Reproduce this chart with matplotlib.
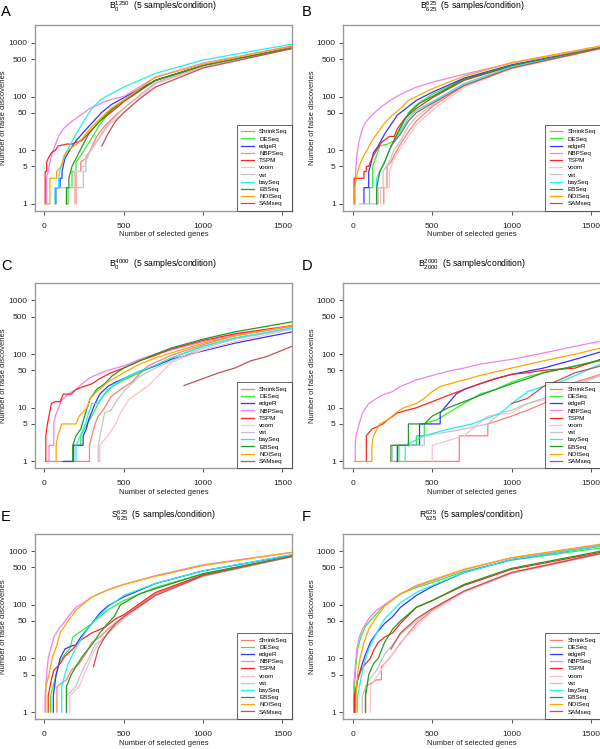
import matplotlib
matplotlib.use('Agg')
import matplotlib.pyplot as plt

plt.rcParams['font.family'] = ['Liberation Sans', 'DejaVu Sans']
plt.rcParams['mathtext.default'] = 'regular'

methods = ["ShrinkSeq", "DESeq", "edgeR", "NBPSeq", "TSPM", "voom", "vst",
           "baySeq", "EBSeq", "NOISeq", "SAMseq"]
method_colors = ["#FA8072", "#33EE33", "#3434FF", "#EE82EE", "#FF2424", "#FFBFC8",
                 "#C4C4C4", "#22F0F0", "#229B22", "#FFA500", "#C25252"]

panel_letters = ["A", "B", "C", "D", "E", "F"]
panel_titles = [r"$B_0^{1250}$", r"$B_{625}^{625}$", r"$B_0^{4000}$",
                r"$B_{2000}^{2000}$", r"$S_{625}^{625}$", r"$R_{625}^{625}$"]
subtitle = "  (5 samples/condition)"

x_ticks = [0, 500, 1000, 1500]
y_ticks = [1, 5, 10, 50, 100, 500, 1000]

# number of false discoveries vs number of selected genes
curves_a = {
    "ShrinkSeq": ([200, 200, 230, 230, 260, 290, 330, 380, 450, 500, 700, 1000, 1560],
                  [1, 4, 4, 6, 7, 10, 18, 28, 45, 60, 180, 360, 810]),
    "DESeq": ([137, 150, 150, 175, 175, 200, 200, 230, 260, 300, 350, 420, 500, 700, 1000, 1560],
              [1, 1, 2, 2, 4, 4, 6, 8, 11, 17, 30, 55, 85, 200, 380, 800]),
    "edgeR": ([73, 73, 100, 100, 112, 112, 130, 160, 200, 250, 300, 360, 420, 500, 700, 1000, 1560],
              [1, 2, 2, 3, 3, 4, 7, 10, 15, 22, 32, 50, 70, 95, 200, 380, 810]),
    "NBPSeq": ([15, 15, 25, 36, 50, 67, 90, 120, 160, 204, 250, 288, 330, 372, 420, 500, 700, 1000, 1560],
               [1, 3, 4, 6, 9, 12, 18, 25, 32, 40, 50, 60, 68, 78, 88, 100, 230, 420, 880]),
    "TSPM": ([6, 6, 15, 15, 25, 46, 70, 88, 141, 172, 200, 235, 288, 350, 435, 500, 700, 1000, 1560],
             [1, 4, 4, 6, 7, 9, 10, 12, 13, 13, 14, 15, 22, 35, 55, 80, 200, 370, 820]),
    "voom": ([190, 190, 235, 235, 260, 260, 300, 330, 400, 500, 700, 1000, 1560],
             [1, 4, 4, 5, 5, 8, 10, 14, 28, 50, 170, 350, 800]),
    "vst": ([99, 246, 246, 262, 262, 290, 330, 400, 500, 700, 1000, 1560],
            [2, 2, 4, 4, 6, 10, 15, 30, 60, 180, 360, 800]),
    "baySeq": ([67, 67, 90, 90, 105, 130, 160, 200, 250, 300, 360, 500, 700, 1000, 1560],
               [1, 2, 2, 3, 5, 8, 12, 20, 35, 60, 90, 150, 270, 480, 950]),
    "EBSeq": ([140, 140, 155, 155, 175, 210, 240, 280, 330, 400, 500, 700, 1000, 1560],
              [1, 2, 2, 3, 5, 8, 12, 20, 30, 50, 85, 200, 380, 800]),
    "NOISeq": ([10, 36, 36, 78, 78, 109, 125, 151, 204, 250, 288, 350, 420, 500, 700, 1000, 1560],
               [1, 1, 3, 3, 4, 5, 8, 10, 13, 18, 25, 38, 60, 85, 230, 400, 870]),
    "SAMseq": ([363, 400, 450, 500, 600, 700, 1000, 1560],
               [12, 20, 35, 50, 90, 150, 340, 780]),
}

curves_b = {
    "ShrinkSeq": ([195, 195, 215, 215, 240, 260, 300, 350, 400, 500, 700, 1000, 1560],
                  [1, 2, 2, 5, 6, 8, 13, 22, 35, 65, 160, 340, 790]),
    "DESeq": ([105, 105, 125, 125, 150, 170, 220, 260, 300, 350, 400, 500, 700, 1000, 1560],
              [1, 2, 2, 5, 8, 12, 13, 15, 25, 50, 70, 110, 210, 380, 810]),
    "edgeR": ([70, 70, 100, 100, 110, 130, 160, 200, 240, 280, 350, 400, 500, 700, 1000, 1560],
              [1, 2, 2, 4, 5, 9, 12, 20, 30, 45, 65, 85, 120, 220, 390, 820]),
    "NBPSeq": ([12, 12, 20, 25, 40, 60, 80, 120, 180, 250, 300, 400, 500, 700, 1000, 1560],
               [1, 2, 5, 8, 15, 25, 33, 45, 65, 90, 110, 150, 185, 260, 420, 830]),
    "TSPM": ([8, 8, 70, 70, 85, 85, 100, 110, 130, 150, 180, 230, 260, 280, 330, 400, 500, 700, 1000, 1560],
             [1, 3, 3, 4, 4, 5, 5, 6, 8, 10, 14, 18, 18, 25, 40, 60, 95, 200, 370, 810]),
    "voom": ([175, 175, 230, 230, 260, 300, 350, 400, 500, 700, 1000, 1560],
             [1, 2, 2, 4, 7, 11, 18, 30, 55, 150, 330, 780]),
    "vst": ([40, 160, 160, 190, 190, 230, 260, 300, 350, 400, 500, 700, 1000, 1560],
            [1, 1, 2, 2, 4, 6, 10, 15, 28, 42, 70, 170, 350, 800]),
    "baySeq": ([150, 150, 170, 200, 230, 260, 300, 350, 400, 500, 700, 1000, 1560],
               [1, 3, 4, 6, 10, 15, 22, 40, 55, 80, 175, 360, 800]),
    "EBSeq": ([150, 150, 170, 200, 230, 270, 320, 370, 420, 500, 700, 1000, 1560],
              [1, 2, 4, 6, 10, 18, 35, 55, 75, 100, 210, 380, 810]),
    "NOISeq": ([12, 12, 30, 50, 70, 90, 120, 160, 200, 250, 300, 350, 400, 500, 700, 1000, 1560],
               [1, 2, 4, 6, 8, 10, 15, 22, 32, 45, 60, 85, 100, 140, 240, 430, 880]),
    "SAMseq": ([240, 300, 350, 400, 500, 700, 1000, 1560],
               [12, 20, 35, 50, 75, 160, 340, 790]),
}

curves_c = {
    "ShrinkSeq": ([10, 285, 285, 300, 320, 340, 380, 420, 480, 550, 650, 800, 1000, 1200, 1560],
                  [1, 1, 2, 3, 5, 7, 10, 16, 22, 30, 60, 95, 150, 220, 330]),
    "DESeq": ([180, 180, 230, 230, 270, 310, 340, 380, 430, 500, 600, 700, 800, 1000, 1200, 1560],
              [1, 2, 2, 3, 5, 8, 12, 18, 25, 33, 45, 62, 85, 140, 200, 300]),
    "edgeR": ([120, 185, 185, 245, 245, 265, 280, 320, 350, 400, 450, 500, 600, 700, 800, 1000, 1200, 1560],
              [1, 1, 2, 2, 3, 4, 6, 12, 18, 25, 30, 35, 48, 60, 80, 115, 160, 260]),
    "NBPSeq": ([30, 30, 60, 60, 70, 90, 110, 150, 200, 250, 300, 400, 500, 600, 700, 800, 1000, 1200, 1560],
               [1, 2, 2, 5, 7, 10, 14, 18, 22, 30, 38, 50, 60, 80, 100, 120, 170, 230, 330]),
    "TSPM": ([10, 10, 20, 30, 45, 70, 100, 120, 170, 200, 250, 300, 350, 420, 500, 600, 700, 800, 1000, 1200, 1560],
             [1, 3, 5, 7, 12, 13, 13, 18, 18, 22, 25, 28, 35, 45, 55, 75, 95, 125, 180, 240, 340]),
    "voom": ([340, 350, 350, 400, 450, 480, 530, 580, 650, 720, 800, 1000, 1200, 1560],
             [1, 1, 2, 3, 5, 8, 14, 18, 25, 40, 70, 120, 170, 290]),
    "vst": ([340, 340, 360, 380, 420, 460, 500, 550, 600, 700, 800, 1000, 1200, 1560],
            [1, 2, 4, 8, 9, 14, 20, 28, 38, 55, 75, 130, 190, 300]),
    "baySeq": ([200, 200, 260, 280, 300, 330, 350, 400, 450, 500, 600, 700, 800, 1000, 1200, 1560],
               [1, 2, 5, 8, 12, 12, 14, 22, 28, 35, 48, 62, 85, 140, 200, 310]),
    "EBSeq": ([180, 180, 200, 230, 260, 290, 330, 380, 430, 500, 600, 700, 800, 1000, 1200, 1560],
              [1, 2, 3, 4, 8, 15, 22, 28, 40, 55, 75, 100, 130, 190, 260, 400]),
    "NOISeq": ([75, 75, 85, 100, 110, 200, 220, 270, 290, 330, 400, 500, 600, 700, 1000, 1200, 1560],
               [1, 2, 3, 4, 5, 5, 7, 10, 15, 20, 30, 45, 65, 85, 160, 220, 340]),
    "SAMseq": ([880, 1000, 1100, 1200, 1300, 1400, 1560],
               [26, 35, 45, 55, 75, 90, 140]),
}

curves_d = {
    "ShrinkSeq": ([250, 670, 670, 850, 850, 1000, 1100, 1200, 1300, 1400, 1560],
                  [1, 1, 3, 3, 5, 7, 9, 12, 20, 30, 42]),
    "DESeq": ([290, 290, 400, 400, 450, 450, 530, 600, 700, 800, 900, 1000, 1100, 1200, 1400, 1560],
              [1, 2, 2, 3, 3, 5, 6, 8, 12, 18, 22, 30, 38, 45, 60, 75]),
    "edgeR": ([280, 280, 420, 420, 550, 550, 600, 650, 700, 800, 900, 1000, 1100, 1200, 1400, 1560],
              [1, 2, 2, 5, 5, 8, 12, 18, 22, 28, 35, 42, 48, 55, 80, 110]),
    "NBPSeq": ([15, 15, 20, 40, 60, 100, 150, 200, 250, 300, 400, 500, 600, 700, 800, 1000, 1200, 1400, 1560],
               [1, 2, 3, 5, 8, 12, 15, 18, 20, 25, 33, 40, 48, 55, 65, 80, 105, 140, 175]),
    "TSPM": ([85, 85, 120, 190, 220, 280, 340, 400, 500, 600, 700, 800, 900, 1000, 1100, 1200, 1400, 1560],
             [1, 3, 4, 5, 6, 8, 9, 10, 13, 17, 22, 28, 35, 42, 45, 50, 55, 80]),
    "voom": ([500, 500, 700, 850, 1000, 1100, 1200, 1400, 1560],
             [1, 2, 3, 7, 8, 12, 14, 25, 40]),
    "vst": ([250, 250, 450, 450, 700, 850, 930, 1000, 1100, 1200, 1300, 1400, 1560],
            [1, 2, 2, 3, 4, 5, 8, 9, 12, 15, 20, 28, 40]),
    "baySeq": ([330, 330, 450, 600, 750, 930, 1000, 1100, 1200, 1300, 1400, 1560],
               [1, 2, 3, 4, 5, 8, 12, 20, 25, 30, 40, 65]),
    "EBSeq": ([240, 240, 350, 350, 450, 500, 600, 700, 800, 900, 1000, 1100, 1200, 1400, 1560],
              [1, 2, 2, 5, 5, 7, 10, 13, 17, 22, 28, 35, 45, 60, 78]),
    "NOISeq": ([10, 120, 120, 130, 170, 220, 270, 320, 400, 450, 500, 550, 700, 800, 1000, 1200, 1400, 1560],
               [1, 1, 2, 3, 5, 6, 8, 10, 12, 15, 20, 25, 33, 40, 55, 75, 100, 130]),
    "SAMseq": ([1000, 1100, 1200, 1300, 1400, 1560],
               [12, 15, 25, 33, 45, 60]),
}

curves_e = {
    "ShrinkSeq": ([80, 80, 140, 170, 220, 260, 300, 350, 400, 500, 700, 1000, 1560],
                  [1, 3, 4, 6, 8, 12, 20, 25, 35, 60, 160, 360, 800]),
    "DESeq": ([40, 40, 75, 100, 130, 160, 180, 230, 300, 400, 500, 700, 1000, 1560],
              [1, 2, 5, 9, 12, 15, 25, 32, 45, 80, 120, 210, 380, 800]),
    "edgeR": ([57, 57, 75, 100, 130, 170, 200, 230, 300, 350, 400, 500, 700, 1000, 1560],
              [1, 2, 5, 10, 15, 17, 18, 25, 45, 70, 95, 140, 250, 430, 850]),
    "NBPSeq": ([5, 5, 15, 25, 40, 60, 90, 120, 160, 200, 250, 300, 400, 500, 700, 1000, 1560],
               [1, 2, 5, 10, 15, 25, 35, 45, 65, 90, 110, 140, 190, 240, 350, 560, 950]),
    "TSPM": ([25, 25, 45, 60, 100, 130, 180, 230, 300, 380, 450, 500, 700, 1000, 1560],
             [1, 2, 4, 6, 8, 11, 15, 22, 30, 38, 55, 65, 170, 360, 790]),
    "voom": ([160, 160, 220, 250, 280, 320, 360, 420, 500, 700, 1000, 1560],
             [1, 2, 3, 5, 8, 15, 22, 35, 55, 150, 340, 790]),
    "vst": ([140, 140, 200, 240, 280, 320, 380, 450, 500, 700, 1000, 1560],
            [1, 2, 3, 6, 10, 18, 25, 40, 55, 150, 340, 790]),
    "baySeq": ([110, 110, 130, 150, 180, 210, 250, 300, 400, 500, 700, 1000, 1560],
               [1, 3, 5, 8, 12, 18, 28, 45, 90, 150, 250, 430, 860]),
    "EBSeq": ([140, 140, 170, 210, 250, 300, 350, 400, 440, 480, 600, 700, 1000, 1560],
              [1, 3, 5, 8, 12, 18, 30, 45, 60, 100, 160, 200, 380, 810]),
    "NOISeq": ([10, 10, 30, 50, 80, 100, 150, 200, 300, 400, 500, 700, 1000, 1560],
               [1, 3, 5, 10, 18, 30, 50, 80, 140, 190, 240, 340, 540, 950]),
    "SAMseq": ([310, 340, 370, 400, 450, 500, 600, 700, 1000, 1560],
               [7, 15, 22, 30, 45, 60, 95, 150, 350, 800]),
}

curves_f = {
    "ShrinkSeq": ([80, 80, 150, 180, 180, 230, 280, 330, 400, 500, 700, 1000, 1560],
                  [1, 3, 4, 4, 7, 10, 16, 25, 45, 80, 180, 400, 920]),
    "DESeq": ([10, 10, 20, 30, 50, 80, 120, 200, 300, 400, 500, 700, 1000, 1560],
              [1, 3, 8, 15, 25, 40, 55, 100, 160, 210, 260, 420, 680, 1150]),
    "edgeR": ([15, 15, 30, 60, 80, 110, 150, 200, 250, 300, 400, 500, 700, 1000, 1560],
              [1, 2, 4, 8, 12, 20, 30, 45, 60, 90, 150, 220, 400, 700, 1250]),
    "NBPSeq": ([5, 5, 15, 25, 40, 60, 100, 150, 200, 300, 400, 500, 700, 1000, 1560],
               [1, 3, 7, 15, 25, 35, 55, 80, 100, 160, 220, 280, 450, 750, 1300]),
    "TSPM": ([10, 10, 30, 50, 80, 110, 130, 160, 200, 250, 300, 400, 500, 700, 1000, 1560],
             [1, 2, 4, 6, 8, 10, 14, 20, 25, 30, 45, 90, 120, 230, 460, 950]),
    "voom": ([110, 110, 160, 200, 250, 300, 400, 500, 700, 1000, 1560],
             [1, 3, 5, 8, 12, 20, 40, 75, 170, 380, 880]),
    "vst": ([60, 60, 100, 150, 200, 250, 300, 400, 500, 700, 1000, 1560],
            [1, 2, 4, 6, 12, 18, 28, 50, 85, 180, 390, 900]),
    "baySeq": ([30, 30, 50, 70, 100, 150, 200, 300, 400, 500, 700, 1000, 1560],
               [1, 2, 4, 8, 15, 30, 55, 110, 170, 230, 400, 700, 1250]),
    "EBSeq": ([80, 80, 100, 130, 160, 200, 250, 300, 400, 500, 700, 1000, 1560],
              [1, 2, 5, 8, 10, 20, 35, 50, 90, 120, 240, 480, 1000]),
    "NOISeq": ([20, 20, 30, 45, 70, 100, 150, 200, 300, 400, 500, 700, 1000, 1560],
               [1, 2, 5, 10, 20, 35, 60, 95, 160, 230, 290, 460, 760, 1350]),
    "SAMseq": ([240, 300, 400, 500, 700, 1000, 1560],
               [15, 30, 55, 85, 180, 400, 900]),
}

all_curves = [curves_a, curves_b, curves_c, curves_d, curves_e, curves_f]

W, H = 600, 749
fig = plt.figure(figsize=(W / 100, H / 100), dpi=100)

# axes boxes in pixels: (left, top) ; all same size
ax_w, ax_h = 257.3, 185.4
lefts = [34.7, 343.3]
tops = [25.3, 282.9, 533.6]
letter_base = [15.5, 269.8, 521.2]

for i, curves in enumerate(all_curves):
    row, col = divmod(i, 2)
    l, t = lefts[col], tops[row]
    ax = fig.add_axes([l / W, 1 - (t + ax_h) / H, ax_w / W, ax_h / H])

    for name, color in zip(methods, method_colors):
        xs, ys = curves[name]
        ax.plot(xs, ys, color=color, lw=0.9, label=name, solid_joinstyle='miter')

    ax.set_yscale('log')
    ax.set_xlim(-60, 1560)
    ax.set_ylim(10 ** -0.128, 10 ** 3.328)
    ax.set_xticks(x_ticks)
    ax.set_yticks(y_ticks)
    ax.set_yticklabels([str(v) for v in y_ticks])
    ax.minorticks_off()
    ax.tick_params(length=3, width=0.6, color='#333333', labelsize=6,
                   labelcolor='#222222')
    ax.tick_params(axis='x', pad=5.5)
    ax.tick_params(axis='y', pad=2.5)
    for sp in ax.spines.values():
        sp.set_color('#9a9a9a')
        sp.set_linewidth(1.0)

    ax.set_xlabel('Number of selected genes', fontsize=5.5, color='#222222')
    ax.set_ylabel('Number of false discoveries', fontsize=5.5, color='#222222')
    ax.xaxis.set_label_coords(0.5, -0.112)
    ax.yaxis.set_label_coords(-0.108, 0.5)

    ax.text(0.5, 1 + 15.5 / ax_h, panel_titles[i] + subtitle, transform=ax.transAxes,
            ha='center', va='baseline', fontsize=6.2)
    fig.text((1 + col * 301) / W, 1 - letter_base[row] / H, panel_letters[i],
             fontsize=10.5, ha='left', va='baseline')

    leg = ax.legend(loc='lower right', fontsize=4.5, frameon=True, fancybox=False,
                    borderaxespad=0, borderpad=0.7, labelspacing=0.29,
                    handlelength=2.0, handletextpad=0.9)
    leg.get_frame().set_edgecolor('#222222')
    leg.get_frame().set_linewidth(0.6)
    for ln in leg.get_lines():
        ln.set_linewidth(0.9)

fig.savefig('out.png', dpi=100)
